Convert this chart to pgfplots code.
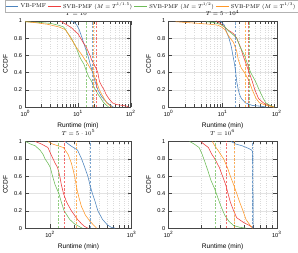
\documentclass[border=0pt]{standalone}
\usepackage{fontspec}
\usepackage{graphicx}
\usepackage{pgfplots}
\pgfplotsset{compat=1.18}
\newfontfamily\hv{Liberation Sans}
\definecolor{cb}{RGB}{77,132,190}
\definecolor{cr}{RGB}{238,62,62}
\definecolor{cg}{RGB}{110,188,88}
\definecolor{co}{RGB}{255,152,40}
\tikzset{ln/.style={line width=0.6pt}, vl/.style={line width=0.75pt, dash pattern=on 2.5pt off 1.5pt, opacity=0.75}}
\begin{document}
\begin{tikzpicture}
\path (0,0) rectangle (298pt,263pt);
% ---------------- TL
\begin{axis}[scale only axis, xmode=log, ymin=0, ymax=1,
  ytick={0,0.2,0.4,0.6,0.8,1},
  /pgf/number format/assume math mode=true,
  ticklabel style={font=\hv\fontsize{6}{7}\selectfont},
  label style={font=\hv\fontsize{7}{8}\selectfont},
  title style={font=\fontsize{6.5}{7}\selectfont, yshift=-4pt},
  xlabel={Runtime (min)}, ylabel={CCDF},
  grid=both, major grid style={gray!22, line width=0.3pt},
  minor grid style={gray!28, dotted, line width=0.3pt},
  tick align=inside, axis line style={gray!55!black, line width=0.4pt},
  tick style={gray!55!black, line width=0.3pt},
  at={(22.7pt,242.3pt)}, anchor=north west, width=112.3pt, height=92pt,
  xmin=1, xmax=100, xtick={1,10,100},
  xticklabels={10\textsuperscript{0},10\textsuperscript{1},10\textsuperscript{2}},
  title={$T = 10^4$},
  legend columns=4,
  legend style={at={(1.196,1.172)}, anchor=center, font=\fontsize{7}{8}\selectfont,
    draw=gray!60, inner sep=0.6pt},
  legend image post style={xscale=0.8},
]
\addplot[cb, ln, mark=none] coordinates {(7.4,1) (8.5,0.98) (9.5,0.95) (10.5,0.9) (12,0.8) (13.5,0.7) (15.4,0.6) (17,0.5) (18.9,0.4) (21,0.3) (23.8,0.2) (28,0.12) (35.9,0.05) (42,0.02) (47,0)};
\addlegendentry{\scalebox{0.85}{VB-PMF}}
\addplot[cr, ln, mark=none] coordinates {(4.6,1) (5.5,0.97) (6.3,0.95) (7.5,0.92) (8.8,0.88) (10,0.85) (11.2,0.8) (12.5,0.75) (14.2,0.7) (16.9,0.6) (18,0.55) (20,0.5) (22,0.45) (23.8,0.4) (25.5,0.3) (28,0.25) (31.3,0.2) (34,0.15) (38.4,0.1) (45,0.05) (54,0.03) (70,0.02) (87,0.01) (90,0)};
\addlegendentry{\scalebox{0.85}{SVB-PMF ($M = T^{1/1.5}$)}}
\addplot[cg, ln, mark=none] coordinates {(1,0.99) (2,0.98) (3.07,0.97) (4.2,0.95) (5.3,0.93) (5.8,0.9) (6.5,0.85) (7.45,0.8) (8.2,0.75) (9.1,0.7) (10.5,0.6) (11.5,0.55) (12.9,0.5) (14.8,0.4) (16,0.35) (18.1,0.3) (19.5,0.25) (21.4,0.2) (24,0.15) (27.3,0.1) (30,0.06) (33.5,0.03) (38.4,0)};
\addlegendentry{\scalebox{0.85}{SVB-PMF ($M = T^{1/2}$)}}
\addplot[co, ln, mark=none] coordinates {(1,0.99) (1.5,0.98) (2.67,0.96) (4.3,0.93) (5.7,0.9) (6.5,0.85) (7.25,0.8) (8.2,0.75) (9.1,0.7) (10.5,0.65) (12,0.6) (13.5,0.55) (15.4,0.5) (17,0.45) (19.4,0.4) (22.3,0.3) (25.5,0.2) (28,0.15) (31.3,0.1) (35,0.05) (38.4,0.03) (44,0)};
\addlegendentry{\scalebox{0.85}{SVB-PMF ($M = T^{1/3}$)}}
\addplot[forget plot, vl, cg, mark=none] coordinates {(14.7,0) (14.7,1)};
\addplot[forget plot, vl, cb, mark=none] coordinates {(18.7,0) (18.7,1)};
\addplot[forget plot, vl, co, mark=none] coordinates {(19.5,0) (19.5,1)};
\addplot[forget plot, vl, cr, mark=none] coordinates {(22.5,0) (22.5,1)};
\end{axis}
% ---------------- TR
\begin{axis}[scale only axis, xmode=log, ymin=0, ymax=1,
  ytick={0,0.2,0.4,0.6,0.8,1},
  /pgf/number format/assume math mode=true,
  ticklabel style={font=\hv\fontsize{6}{7}\selectfont},
  label style={font=\hv\fontsize{7}{8}\selectfont},
  title style={font=\fontsize{6.5}{7}\selectfont, yshift=-4pt},
  xlabel={Runtime (min)}, ylabel={CCDF},
  grid=both, major grid style={gray!22, line width=0.3pt},
  minor grid style={gray!28, dotted, line width=0.3pt},
  tick align=inside, axis line style={gray!55!black, line width=0.4pt},
  tick style={gray!55!black, line width=0.3pt},
  at={(175.3pt,242.3pt)}, anchor=north west, width=115.4pt, height=92pt,
  xmin=1, xmax=100, xtick={1,10,100},
  xticklabels={10\textsuperscript{0},10\textsuperscript{1},10\textsuperscript{2}},
  title={$T = 5\cdot 10^4$},
]
\addplot[cb, ln, mark=none] coordinates {(9.1,1) (10,0.97) (10.8,0.95) (11.4,0.9) (13.1,0.8) (14.5,0.7) (15.5,0.6) (16.6,0.5) (17.5,0.4) (18.2,0.3) (19.5,0.2) (20.5,0.15) (22.2,0.1) (26.4,0.05) (35.3,0.02) (52.8,0.01) (64,0)};
\addplot[cr, ln, mark=none] coordinates {(7.7,1) (9,0.97) (10,0.95) (12.2,0.9) (14.5,0.87) (16,0.85) (18.2,0.8) (21.3,0.7) (23.8,0.6) (27.2,0.5) (31,0.4) (35.3,0.3) (39.4,0.2) (46.2,0.1) (56.5,0.05) (73.6,0.02) (87.8,0)};
\addplot[cg, ln, mark=none] coordinates {(5,0.99) (7,0.98) (9,0.96) (11,0.93) (13,0.88) (15,0.85) (18.2,0.8) (21,0.7) (25.4,0.6) (28.9,0.5) (33.1,0.4) (40.4,0.3) (47.5,0.2) (56.5,0.1) (63,0.05) (75,0.02) (90,0)};
\addplot[co, ln, mark=none] coordinates {(1.36,0.99) (3.7,0.97) (6,0.96) (8.2,0.95) (9.5,0.93) (11,0.9) (13.1,0.82) (15.9,0.75) (18.2,0.65) (19.5,0.55) (22.2,0.45) (25.5,0.4) (31,0.3) (35.3,0.2) (41.6,0.1) (48,0.05) (65,0.02) (90,0)};
\addplot[forget plot, vl, cb, mark=none] coordinates {(17.5,0) (17.5,1)};
\addplot[forget plot, vl, co, mark=none] coordinates {(26.1,0) (26.1,1)};
\addplot[forget plot, vl, cr, mark=none] coordinates {(29.8,0) (29.8,1)};
\addplot[forget plot, vl, cg, mark=none] coordinates {(31.4,0) (31.4,1)};
\end{axis}
% ---------------- BL
\begin{axis}[scale only axis, xmode=log, ymin=0, ymax=1,
  ytick={0,0.2,0.4,0.6,0.8,1},
  /pgf/number format/assume math mode=true,
  ticklabel style={font=\hv\fontsize{6}{7}\selectfont},
  label style={font=\hv\fontsize{7}{8}\selectfont},
  title style={font=\fontsize{6.5}{7}\selectfont, yshift=-3pt},
  xlabel={Runtime (min)}, ylabel={CCDF},
  grid=both, major grid style={gray!22, line width=0.3pt},
  minor grid style={gray!28, dotted, line width=0.3pt},
  tick align=inside, axis line style={gray!55!black, line width=0.4pt},
  tick style={gray!55!black, line width=0.3pt},
  at={(22.7pt,113.7pt)}, anchor=north west, width=113.3pt, height=92.4pt,
  xmin=50, xmax=1000, xtick={100,1000},
  xticklabels={10\textsuperscript{2},10\textsuperscript{3}},
  title={$T = 5\cdot 10^5$},
]
\addplot[cb, ln, mark=none] coordinates {(153,1) (180,0.95) (218,0.9) (244,0.8) (267,0.7) (291,0.6) (309,0.5) (331,0.4) (359,0.3) (386,0.2) (441,0.1) (502,0.04) (560,0.01) (626,0)};
\addplot[cr, ln, mark=none] coordinates {(66,1) (79,0.97) (94.5,0.93) (103,0.85) (115.6,0.75) (124,0.7) (132,0.6) (138,0.5) (146.6,0.4) (160,0.3) (183,0.2) (218,0.1) (244,0.05) (265,0.02) (291,0)};
\addplot[cg, ln, mark=none] coordinates {(50,1) (58,0.97) (66,0.95) (75.7,0.9) (82.6,0.85) (87,0.8) (94.5,0.75) (101,0.7) (107.7,0.6) (115.6,0.5) (128.5,0.4) (138,0.3) (149,0.2) (175,0.1) (199,0.05) (227,0.02) (248,0)};
\addplot[co, ln, mark=none] coordinates {(94.5,1) (108,0.97) (146.6,0.93) (167,0.85) (183,0.75) (195,0.65) (205,0.55) (214,0.45) (227,0.35) (243,0.25) (272,0.15) (309,0.08) (355,0.02) (372,0)};
\addplot[forget plot, vl, cg, mark=none] coordinates {(126,0) (126,1)};
\addplot[forget plot, vl, cr, mark=none] coordinates {(150,0) (150,1)};
\addplot[forget plot, vl, co, mark=none] coordinates {(208,0) (208,1)};
\addplot[forget plot, vl, cb, mark=none] coordinates {(313,0) (313,1)};
\end{axis}
% ---------------- BR
\begin{axis}[scale only axis, xmode=log, ymin=0, ymax=1,
  ytick={0,0.2,0.4,0.6,0.8,1},
  /pgf/number format/assume math mode=true,
  ticklabel style={font=\hv\fontsize{6}{7}\selectfont},
  label style={font=\hv\fontsize{7}{8}\selectfont},
  title style={font=\fontsize{6.5}{7}\selectfont, yshift=-3pt},
  xlabel={Runtime (min)}, ylabel={CCDF},
  grid=both, major grid style={gray!22, line width=0.3pt},
  minor grid style={gray!28, dotted, line width=0.3pt},
  tick align=inside, axis line style={gray!55!black, line width=0.4pt},
  tick style={gray!55!black, line width=0.3pt},
  at={(175.3pt,113.7pt)}, anchor=north west, width=115.4pt, height=92.4pt,
  xmin=100, xmax=1000, xtick={100,1000},
  xticklabels={10\textsuperscript{2},10\textsuperscript{3}},
  title={$T = 10^6$},
]
\addplot[cb, ln, mark=none] coordinates {(379,1) (420,0.97) (480,0.95) (550,0.92) (587,0.9) (600,0.88) (603,0.5) (605,0)};
\addplot[cr, ln, mark=none] coordinates {(199,1) (212,0.97) (234,0.93) (252,0.85) (268,0.8) (295,0.7) (316,0.6) (338,0.5) (355,0.4) (373,0.3) (400,0.2) (427,0.12) (488,0.07) (560,0.03) (595,0.01) (600,0)};
\addplot[cg, ln, mark=none] coordinates {(157,1) (173,0.97) (192,0.93) (205,0.85) (219,0.75) (233,0.65) (247,0.55) (268,0.45) (286,0.35) (306,0.25) (331,0.15) (361,0.08) (400,0.03) (455,0.01) (521,0)};
\addplot[co, ln, mark=none] coordinates {(254,1) (268,0.95) (286,0.9) (323,0.8) (350,0.7) (373,0.6) (400,0.5) (427,0.4) (455,0.3) (488,0.2) (520,0.1) (570,0.03) (600,0)};
\addplot[forget plot, vl, cg, mark=none] coordinates {(273,0) (273,1)};
\addplot[forget plot, vl, cr, mark=none] coordinates {(345,0) (345,1)};
\addplot[forget plot, vl, co, mark=none] coordinates {(405,0) (405,1)};
\addplot[forget plot, vl, cb, mark=none] coordinates {(595,0) (595,1)};
\end{axis}
\end{tikzpicture}
\end{document}
